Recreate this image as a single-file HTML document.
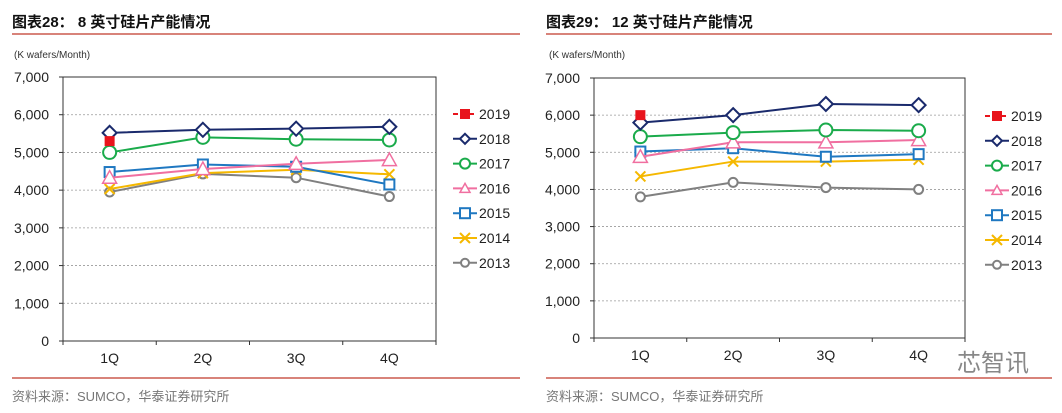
<!DOCTYPE html>
<html><head><meta charset="utf-8">
<style>
body{margin:0;background:#fff;width:1062px;height:413px;overflow:hidden;font-family:"Liberation Sans","Noto Sans CJK SC",sans-serif;}
svg{position:absolute;left:0;top:0}
</style></head>
<body>
<svg id="s" width="1062" height="413" xmlns="http://www.w3.org/2000/svg">
<text x="12" y="27" font-size="15" font-weight="bold" fill="#111" font-family="Liberation Sans,Noto Sans CJK SC,sans-serif">图表28： 8 英寸硅片产能情况</text>
<line x1="12" y1="34" x2="520" y2="34" stroke="#c0392b" stroke-width="1.2"/>
<text x="546" y="27" font-size="15" font-weight="bold" fill="#111" font-family="Liberation Sans,Noto Sans CJK SC,sans-serif">图表29： 12 英寸硅片产能情况</text>
<line x1="546" y1="34" x2="1052" y2="34" stroke="#c0392b" stroke-width="1.2"/>
<line x1="12" y1="378" x2="520" y2="378" stroke="#c0392b" stroke-width="1.2"/>
<line x1="546" y1="378" x2="1052" y2="378" stroke="#c0392b" stroke-width="1.2"/>
<text x="12" y="401" font-size="13" fill="#777" font-family="Liberation Sans,Noto Sans CJK SC,sans-serif">资料来源：SUMCO，华泰证券研究所</text>
<text x="546" y="401" font-size="13" fill="#777" font-family="Liberation Sans,Noto Sans CJK SC,sans-serif">资料来源：SUMCO，华泰证券研究所</text>
<text x="957" y="371" font-size="24" fill="#888" font-family="Liberation Sans,Noto Sans CJK SC,sans-serif">芯智讯</text>
</svg>
<script>
const categories=["1Q","2Q","3Q","4Q"];
const yTicks=[0,1000,2000,3000,4000,5000,6000,7000];
const yTickLabels=["0","1,000","2,000","3,000","4,000","5,000","6,000","7,000"];
const seriesNames=["2019","2018","2017","2016","2015","2014","2013"];
const c1_2019=[5300];
const c1_2018=[5520,5600,5630,5680];
const c1_2017=[5000,5400,5350,5330];
const c1_2016=[4330,4560,4700,4800];
const c1_2015=[4480,4680,4620,4150];
const c1_2014=[4030,4450,4540,4420];
const c1_2013=[3950,4430,4330,3830];
const c2_2019=[6000];
const c2_2018=[5800,6000,6300,6270];
const c2_2017=[5420,5530,5600,5580];
const c2_2016=[4880,5270,5270,5330];
const c2_2015=[5020,5110,4880,4950];
const c2_2014=[4350,4750,4750,4800];
const c2_2013=[3800,4190,4050,4000];

const styles=[
 {c:"#e8141c",m:"sqf",dash:"5,3"},
 {c:"#1a2a6c",m:"dia"},
 {c:"#1aab4b",m:"cir"},
 {c:"#f06fa0",m:"tri"},
 {c:"#1f78c1",m:"sq"},
 {c:"#f5b800",m:"x"},
 {c:"#808080",m:"cir2"}];
const NS="http://www.w3.org/2000/svg";
const svg=document.getElementById('s');
function mk(t,a,p){const e=document.createElementNS(NS,t);for(const k in a)e.setAttribute(k,a[k]);(p||svg).appendChild(e);return e;}
function marker(g,type,x,y,c,s){
 if(type==="sqf")return mk('rect',{x:x-5,y:y-5,width:10,height:10,fill:c},g);
 if(type==="sq")return mk('rect',{x:x-5,y:y-5,width:10,height:10,fill:"#fff",stroke:c,"stroke-width":2},g);
 if(type==="dia"){s=s||7;return mk('polygon',{points:`${x},${y-s} ${x+s},${y} ${x},${y+s} ${x-s},${y}`,fill:"#fff",stroke:c,"stroke-width":2},g);}
 if(type==="cir")return mk('circle',{cx:x,cy:y,r:s||6.5,fill:"#fff",stroke:c,"stroke-width":2},g);
 if(type==="cir2")return mk('circle',{cx:x,cy:y,r:s||4.5,fill:"#fff",stroke:c,"stroke-width":2},g);
 if(type==="tri"){s=s||7;return mk('polygon',{points:`${x},${y-s} ${x+s},${y+s*0.8} ${x-s},${y+s*0.8}`,fill:"#fff",stroke:c,"stroke-width":1.5},g);}
 if(type==="x"){const gg=mk('g',{stroke:c,"stroke-width":2},g);mk('line',{x1:x-5,y1:y-5,x2:x+5,y2:y+5},gg);mk('line',{x1:x-5,y1:y+5,x2:x+5,y2:y-5},gg);return gg;}
}
function chart(id,L,R,T,B,data,legX,legY0,unitX){
 const g=mk('g',{});
 
 
 const yS=v=>B-(v/7000)*(B-T);
 const bw=(R-L)/categories.length;
 const xS=i=>L+bw*(i+0.5);
 const u=mk('text',{x:unitX,y:58,"font-size":10,fill:"#333"},g);u.textContent="(K wafers/Month)";
 
 
 yTicks.forEach((v,i)=>{
  if(v>0&&v<7000){const gl=mk('line',{x1:L,y1:yS(v),x2:R,y2:yS(v),stroke:"#999","stroke-dasharray":"2,2","stroke-width":0.8},g);
  
  }
  const t=mk('text',{x:L-14,y:yS(v)+5,"font-size":14,fill:"#222","text-anchor":"end"},g);t.textContent=yTickLabels[i];
  
  
  mk('line',{x1:L-4,y1:yS(v),x2:L,y2:yS(v),stroke:"#333"},g);
 });
 const f=mk('rect',{x:L,y:T,width:R-L,height:B-T,fill:"none",stroke:"#333","stroke-width":1},g);
 
 
 categories.forEach((c,i)=>{
  mk('line',{x1:L+bw*i,y1:B,x2:L+bw*i,y2:B+4,stroke:"#333"},g);
  const t=mk('text',{x:xS(i),y:B+22,"font-size":14,fill:"#222","text-anchor":"middle"},g);t.textContent=c;
  
  
 });
 mk('line',{x1:R,y1:B,x2:R,y2:B+4,stroke:"#333"},g);
 for(let k=data.length-1;k>=0;k--){
  const st=styles[k],d=data[k];
  const sg=mk('g',{},g);
  
  
  if(d.length>1)mk('polyline',{points:d.map((v,i)=>xS(i)+","+yS(v)).join(" "),fill:"none",stroke:st.c,"stroke-width":2},sg);
  d.forEach((v,i)=>{const m=marker(sg,st.m,xS(i),yS(v),st.c);
   
   });
 }
 seriesNames.forEach((n,k)=>{
  const st=styles[k],y=legY0+k*24.8;
  const lg=mk('g',{},g);
  
  
  mk('line',{x1:legX-12,y1:y,x2:legX+12,y2:y,stroke:st.c,"stroke-width":2,"stroke-dasharray":st.dash||"none"},lg);
  marker(lg,st.m,legX,y,st.c,st.m==="cir"?5:st.m==="dia"?5:st.m==="tri"?5:4);
  const t=mk('text',{x:legX+14,y:y+5,"font-size":14,fill:"#222"},lg);t.textContent=n;
 });
}
chart('chart-8inch',63,436,77,341,[c1_2019,c1_2018,c1_2017,c1_2016,c1_2015,c1_2014,c1_2013],465,114,14);
chart('chart-12inch',594,965,78,338,[c2_2019,c2_2018,c2_2017,c2_2016,c2_2015,c2_2014,c2_2013],997,116,549);
</script>
</body></html>
